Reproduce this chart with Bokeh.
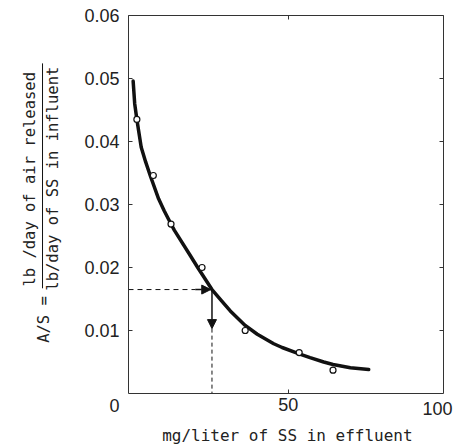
import math
from bokeh.plotting import figure
from bokeh.models import Label, LinearAxis, FixedTicker, Range1d, Arrow, NormalHead
from bokeh.embed import file_html
from bokeh.resources import INLINE

# ---- data ----
curve_x = [0.0, 0.5, 1.2, 2.6, 4.0, 5.5, 8.2, 10.0, 12.2, 13.3, 18.4, 20.8, 25.4, 28.5, 31.3,
           36.1, 40.0, 45.3, 48.0, 53.5, 57.0, 61.4, 64.4, 70.0, 75.9]
curve_y = [0.0496, 0.0460, 0.0435, 0.0391, 0.0368, 0.0346, 0.0309, 0.0290, 0.0269, 0.0259, 0.0219,
           0.0200, 0.0165, 0.0147, 0.0131, 0.0108, 0.0094, 0.0079, 0.0073, 0.0063, 0.0057,
           0.0050, 0.0046, 0.0041, 0.0038]

obs_x = [1.2, 6.5, 12.2, 22.2, 36.1, 53.5, 64.4]
obs_y = [0.0435, 0.0346, 0.0269, 0.0200, 0.0100, 0.0065, 0.0037]

# design point
cut_x = 25.4
cut_y = 0.0165
h_arrow_from = 20.0
v_arrow_to = 0.0103

x_ticks = [50]
y_ticks = [0.01, 0.02, 0.03, 0.04, 0.05, 0.06]

# plotted box (axes are drawn at fixed locations on its edges)
box_x = (-1.5, 100.0)
box_y = (0.0, 0.06)

FRAME = "#333333"
INK = "#111111"
TXT = "#222222"
MONO = "DejaVu Sans Mono"
SANS = "Liberation Sans"

p = figure(width=457, height=445, output_backend="svg", toolbar_location=None,
           x_range=Range1d(-42.74, 104.51), y_range=Range1d(-0.008254, 0.062381),
           min_border_left=0, min_border_right=0, min_border_top=0, min_border_bottom=0)
p.background_fill_color = "white"
p.border_fill_color = "white"
p.outline_line_color = None
p.grid.visible = False

ax_l = p.yaxis[0]
ax_b = p.xaxis[0]
ax_l.fixed_location = box_x[0]
ax_l.bounds = box_y
ax_l.ticker = FixedTicker(ticks=y_ticks)
ax_l.major_label_standoff = 9
ax_b.fixed_location = box_y[0]
ax_b.bounds = box_x
ax_b.ticker = FixedTicker(ticks=x_ticks)
ax_b.major_label_standoff = 5

for ax in (ax_l, ax_b):
    ax.major_tick_in = 4
    ax.major_tick_out = 0
    ax.minor_tick_line_color = None
    ax.axis_line_color = FRAME
    ax.major_tick_line_color = FRAME
    ax.major_label_text_font = SANS
    ax.major_label_text_font_size = "18px"
    ax.major_label_text_color = TXT

# right and top edges of the box, with unlabeled inward ticks
ax_r = LinearAxis(fixed_location=box_x[1], bounds=box_y,
                  ticker=FixedTicker(ticks=[], minor_ticks=y_ticks),
                  minor_tick_in=4, minor_tick_out=0, axis_line_color=FRAME,
                  minor_tick_line_color=FRAME)
ax_t = LinearAxis(fixed_location=box_y[1], bounds=box_x,
                  ticker=FixedTicker(ticks=[], minor_ticks=x_ticks),
                  minor_tick_in=4, minor_tick_out=0, axis_line_color=FRAME,
                  minor_tick_line_color=FRAME)
p.add_layout(ax_r, "right")
p.add_layout(ax_t, "above")

# guide lines (dashed) and arrows
p.line([box_x[0], h_arrow_from], [cut_y, cut_y], line_color=INK, line_width=1, line_dash="5 4")
p.line([cut_x, cut_x], [v_arrow_to, box_y[0]], line_color=INK, line_width=1, line_dash="4 3")
p.add_layout(Arrow(end=NormalHead(size=9, fill_color=INK, line_color=INK),
                   x_start=h_arrow_from, y_start=cut_y, x_end=cut_x - 0.4, y_end=cut_y,
                   line_color=INK, line_width=1.5))
p.add_layout(Arrow(end=NormalHead(size=9, fill_color=INK, line_color=INK),
                   x_start=cut_x, y_start=cut_y, x_end=cut_x, y_end=v_arrow_to,
                   line_color=INK, line_width=1.5))

# fitted curve and observations
p.line(curve_x, curve_y, line_color=INK, line_width=3.5, line_join="round", line_cap="round")
p.scatter(obs_x, obs_y, marker="circle", size=6, fill_color="white", line_color=INK, line_width=1.2)

# origin and 100 tick labels
p.add_layout(Label(x=-6.0, y=-0.0019, text="0", text_font=SANS, text_font_size="18px",
                   text_color=TXT, text_align="center", text_baseline="middle"))
p.add_layout(Label(x=98.1, y=-0.0024, text="100", text_font=SANS, text_font_size="18px",
                   text_color=TXT, text_align="center", text_baseline="middle"))

# x axis title
p.add_layout(Label(x=49.7, y=-0.00667, text="mg/liter of SS in effluent", text_font=MONO,
                   text_font_size="16px", text_color=TXT, text_align="center",
                   text_baseline="middle"))

# y axis title: A/S = fraction
rot = math.pi / 2
p.add_layout(Label(x=-33.1, y=0.0340, text="lb /day of air released", angle=rot, text_font=MONO,
                   text_font_size="15.5px", text_color=TXT, text_align="center",
                   text_baseline="middle"))
p.add_layout(Label(x=-25.7, y=0.0341, text="lb/day of SS in influent", angle=rot, text_font=MONO,
                   text_font_size="15.5px", text_color=TXT, text_align="center",
                   text_baseline="middle"))
p.line([-29.2, -29.2], [0.0167, 0.0524], line_color=INK, line_width=1)
p.add_layout(Label(x=-28.7, y=0.01175, text="A/S =", angle=rot, text_font=MONO,
                   text_font_size="15.5px", text_color=TXT, text_align="center",
                   text_baseline="middle"))

open("out.html", "w").write(file_html(p, INLINE))
